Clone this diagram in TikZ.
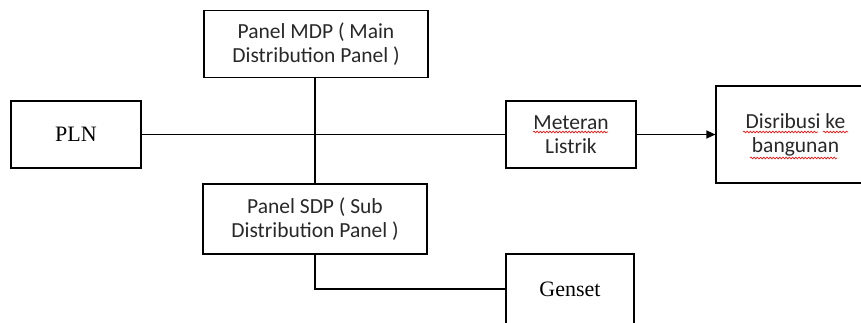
\documentclass[tikz,border=0pt]{standalone}
\usepackage{fontspec}
\setmainfont{Carlito}
\newfontfamily\timesf{Liberation Serif}
\usetikzlibrary{arrows.meta,decorations.pathmorphing}
\definecolor{txt}{RGB}{40,40,40}
\begin{document}
\begin{tikzpicture}[x=1pt,y=-1pt,
  box/.style={draw,line width=1.2pt,inner sep=0pt,align=center,text=txt,
    font=\fontsize{21.5}{24}\selectfont},
  tbox/.style={box,text=black,font=\timesf\fontsize{22}{24}\selectfont},
  wire/.style={line width=1.2pt},
  spell/.style={red,line width=0.6pt,decorate,
    decoration={snake,amplitude=0.9pt,segment length=3.2pt}}]
\useasboundingbox (0,0) rectangle (861,322);
\node[tbox,minimum width=130pt,minimum height=67pt] (pln) at (76,134.5) {PLN};
\node[box,minimum width=224pt,minimum height=67pt] (mdp) at (316,44) {Panel MDP ( Main\\Distribution Panel )};
\node[box,minimum width=130pt,minimum height=67pt] (met) at (571,134.5) {Meteran\\Listrik};
\node[box,minimum width=159pt,minimum height=97pt] (dis) at (795.5,134.5) {Disribusi ke\\bangunan};
\node[box,minimum width=224pt,minimum height=70pt] (sdp) at (315,219) {Panel SDP ( Sub\\Distribution Panel )};
\node[tbox,minimum width=128pt,minimum height=70pt] (gen) at (570,289) {Genset};
\draw[wire] (pln.east) -- (met.west);
\draw[wire] (mdp.south -| sdp.north) -- (sdp.north);
\draw[wire,-{Triangle[length=9pt,width=8pt]}] (met.east) -- (dis.west);
\draw[wire] (sdp.south) |- (gen.west);
\draw[spell] (533,132) -- (608,132);
\draw[spell] (743,132) -- (818,132);
\draw[spell] (823,132) -- (848,132);
\draw[spell] (750,158) -- (837,158);
\end{tikzpicture}
\end{document}
